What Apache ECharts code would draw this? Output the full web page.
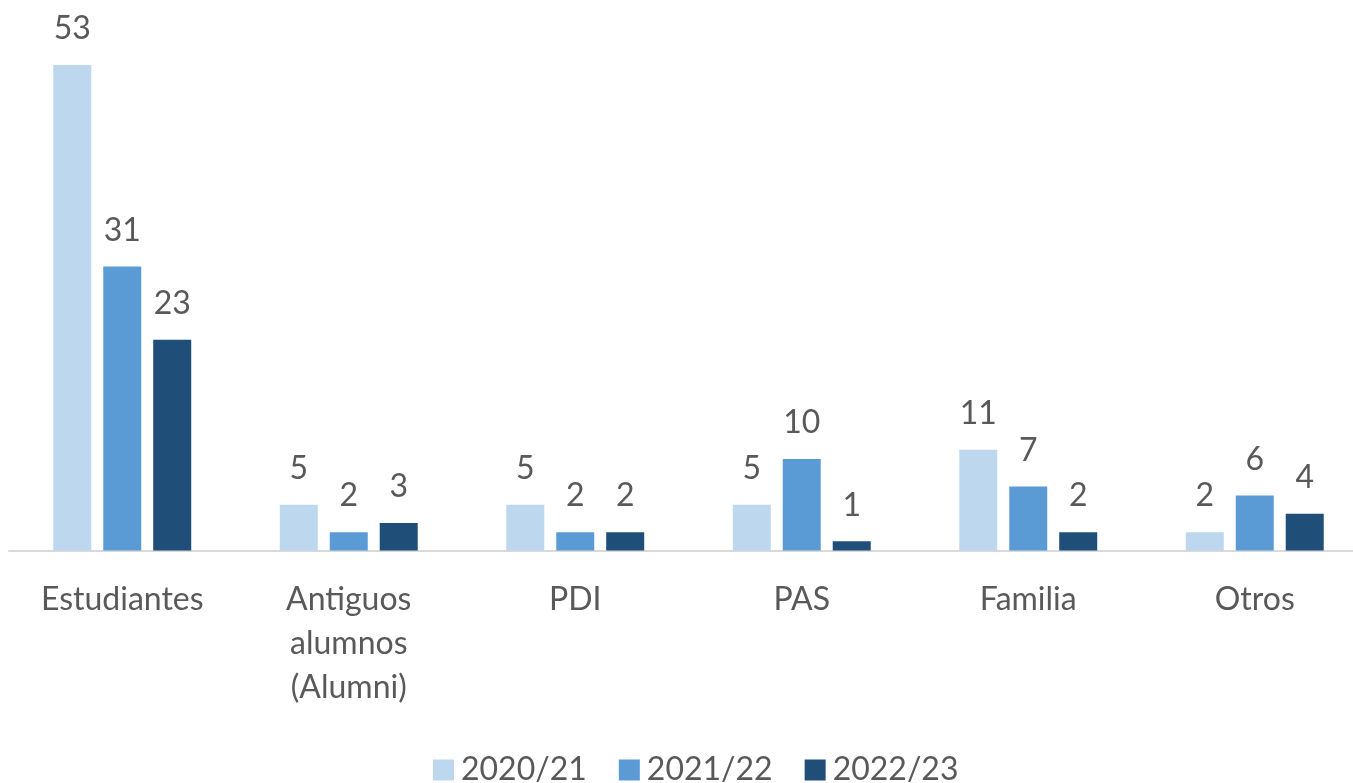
<!DOCTYPE html>
<html>
<head>
<meta charset="utf-8">
<script src="https://cdn.jsdelivr.net/npm/echarts@6/dist/echarts.min.js"></script>
<style>
	html, body { margin: 0; padding: 0; background: #fff; overflow: hidden; }
	#chart { width: 1370px; height: 783px; }
</style>
</head>
<body>
<div id="chart"></div>
<script>
let categories = ['Estudiantes', 'Antiguos alumnos (Alumni)', 'PDI', 'PAS', 'Familia', 'Otros'];
let series_names = ['2020/21', '2021/22', '2022/23'];
let values_2020 = [53, 5, 5, 5, 11, 2];
let values_2021 = [31, 2, 2, 10, 7, 6];
let values_2022 = [23, 3, 2, 1, 2, 4];
let colors = ['#BDD7EE', '#5B9BD5', '#1F4E79'];

let font = 'Lato, "Open Sans", sans-serif';
let text_color = '#595959';

let chart = echarts.init(document.getElementById('chart'));

// 每个系列一样的样式
function make_series(name, data, color) {
	return {
		name: name,
		type: 'bar',
		data: data,
		barWidth: 38,
		barGap: '31.5%',
		itemStyle: { color: color },
		label: {
			show: true,
			position: 'top',
			distance: 20,
			color: text_color,
			fontFamily: font,
			fontSize: 32,
		},
	};
}

let option = {
	animation: false,
	color: colors,
	legend: {
		left: 428,
		top: 749,
		itemWidth: 21,
		itemHeight: 21,
		itemGap: 32,
		icon: 'rect',
		textStyle: { color: text_color, fontFamily: font, fontSize: 32, padding: [0, 0, 0, 2] },
		data: series_names,
	},
	grid: {
		left: 9,
		width: 1359,
		top: 1,
		bottom: 232.5,
		containLabel: false,
	},
	xAxis: {
		type: 'category',
		data: categories,
		axisTick: { show: false },
		axisLine: { lineStyle: { color: '#D9D9D9', width: 2 } },
		axisLabel: {
			interval: 0,
			margin: 27,
			color: text_color,
			fontFamily: font,
			fontSize: 32,
			lineHeight: 44,
			formatter: (v) => v.split(' ').join('\n'),
		},
	},
	yAxis: {
		type: 'value',
		min: 0,
		max: 60,
		show: false,
		splitLine: { show: false },
	},
	series: [
		make_series(series_names[0], values_2020, colors[0]),
		make_series(series_names[1], values_2021, colors[1]),
		make_series(series_names[2], values_2022, colors[2]),
	],
};

chart.setOption(option);
</script>
</body>
</html>
